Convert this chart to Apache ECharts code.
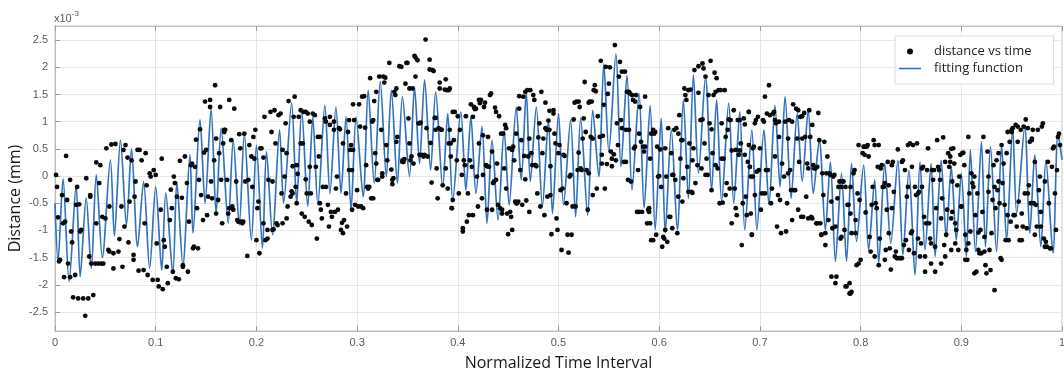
<!DOCTYPE html>
<html>
<head>
<meta charset="utf-8">
<script src="https://cdn.jsdelivr.net/npm/echarts@6/dist/echarts.min.js"></script>
<style>
html,body{margin:0;padding:0;background:#fff;}
#main{width:1064px;height:374px;}
</style>
</head>
<body>
<div id="main"></div>
<script>
// x: normalized time interval, y: distance (x10^-3 mm)
const distanceVsTime = [
// 0.00 - 0.10
[0.001,0.02],[0.002,-0.20],[0.003,-0.76],[0.004,-1.57],[0.005,-1.54],[0.007,-0.35],[0.008,-0.87],[0.009,-1.86],[0.010,-0.84],[0.011,0.37],[0.012,-0.44],[0.013,-1.61],[0.015,-1.86],[0.015,-0.07],[0.016,-1.02],[0.017,-1.22],[0.018,-2.23],[0.020,-1.82],[0.021,-0.53],[0.022,-0.20],[0.023,-2.25],[0.024,-0.52],[0.025,-1.02],[0.026,-0.99],[0.028,-2.25],[0.030,-2.57],[0.031,-0.04],[0.033,-2.25],[0.034,-1.48],[0.035,-0.35],[0.035,-0.38],[0.036,-1.61],[0.038,-2.19],[0.040,-1.61],[0.041,0.25],[0.041,-0.87],[0.043,-1.61],[0.044,-0.13],[0.045,0.20],[0.046,-1.61],[0.047,-0.75],[0.048,-1.61],[0.050,-0.78],[0.051,0.51],[0.053,-1.36],[0.054,-0.56],[0.054,-1.39],[0.056,0.58],[0.058,-1.42],[0.058,-1.70],[0.060,0.59],[0.063,-1.39],[0.064,-1.16],[0.066,-0.56],[0.067,-1.67],[0.068,0.48],[0.069,-0.93],[0.070,0.57],[0.072,0.34],[0.073,-1.22],[0.074,-0.47],[0.076,0.29],[0.078,-1.54],[0.078,-1.45],[0.079,-0.38],[0.080,-0.10],[0.082,0.48],[0.083,-1.74],[0.084,0.48],[0.086,0.29],[0.088,-1.73],[0.089,-0.87],[0.090,0.42],[0.091,-0.17],[0.092,-1.82],[0.094,0.05],[0.095,-0.01],[0.097,-1.91],[0.098,0.11],
// 0.10 - 0.20
[0.100,0.02],[0.101,-1.24],[0.102,-1.91],[0.103,-2.03],[0.105,-0.62],[0.106,0.32],[0.107,-2.08],[0.108,-1.18],[0.109,-1.30],[0.111,-1.67],[0.112,-1.97],[0.114,-0.81],[0.115,-0.25],[0.116,-0.59],[0.117,-1.76],[0.118,-0.01],[0.119,-0.13],[0.120,-1.88],[0.121,-0.38],[0.123,-1.90],[0.124,0.28],[0.126,-0.40],[0.127,-1.67],[0.127,-1.64],[0.129,0.36],[0.131,-0.13],[0.132,-1.76],[0.133,-0.84],[0.135,0.20],[0.136,0.23],[0.137,-1.33],[0.138,-1.30],[0.139,0.17],[0.140,0.67],[0.141,-0.59],[0.142,-1.33],[0.143,-0.07],[0.144,0.86],[0.145,-0.35],[0.147,-0.81],[0.148,0.43],[0.149,1.37],[0.150,0.48],[0.151,-0.72],[0.152,-0.38],[0.154,1.40],[0.154,1.27],[0.155,-0.10],[0.156,-0.41],[0.158,0.29],[0.159,1.67],[0.160,0.69],[0.160,-0.69],[0.162,-0.44],[0.163,0.42],[0.164,1.27],[0.165,-0.07],[0.166,-0.87],[0.167,0.60],[0.168,0.85],[0.168,0.81],[0.169,0.85],[0.171,-0.07],[0.172,-0.69],[0.173,-0.59],[0.173,1.40],[0.175,0.66],[0.176,-0.56],[0.177,-0.62],[0.178,1.24],[0.180,-0.10],[0.181,-0.81],[0.182,-0.84],[0.183,0.77],[0.184,0.51],[0.185,-0.84],[0.186,-0.87],[0.187,-0.84],[0.188,0.78],[0.189,-0.10],[0.191,-1.47],[0.192,-0.07],[0.193,0.57],[0.195,0.36],[0.196,-0.20],[0.197,0.72],
// 0.20 - 0.30
[0.198,0.32],[0.199,0.85],[0.200,-1.18],[0.201,-0.59],[0.202,-0.47],[0.203,-1.42],[0.204,0.51],[0.205,0.51],[0.207,-0.87],[0.207,0.34],[0.208,1.09],[0.209,-1.18],[0.211,-1.15],[0.211,-0.99],[0.212,-0.07],[0.214,1.18],[0.215,0.81],[0.216,-0.99],[0.216,-0.10],[0.217,-0.98],[0.218,1.21],[0.219,0.60],[0.220,-0.87],[0.221,-0.90],[0.222,1.12],[0.224,1.15],[0.225,-0.32],[0.226,0.48],[0.226,-0.87],[0.228,-0.01],[0.229,0.97],[0.230,0.42],[0.230,-0.78],[0.231,-0.56],[0.232,1.38],[0.234,-0.38],[0.235,-0.28],[0.236,-0.32],[0.236,0.18],[0.237,1.09],[0.238,1.46],[0.239,-0.20],[0.240,0.20],[0.240,-0.50],[0.241,0.04],[0.242,1.09],[0.244,1.21],[0.244,0.60],[0.245,-0.69],[0.246,0.60],[0.247,1.18],[0.248,-0.75],[0.249,1.18],[0.249,-0.06],[0.250,-0.32],[0.251,1.15],[0.252,-0.84],[0.253,0.17],[0.253,1.00],[0.254,-0.32],[0.255,-0.90],[0.256,1.15],[0.258,1.12],[0.259,0.17],[0.260,-1.15],[0.261,0.72],[0.262,0.36],[0.263,0.72],[0.263,-0.50],[0.264,-0.62],[0.265,-0.78],[0.266,-0.20],[0.268,1.06],[0.269,1.00],[0.269,-0.20],[0.271,-0.53],[0.272,-0.93],[0.273,1.09],[0.273,0.94],[0.274,-0.66],[0.275,-0.75],[0.277,1.00],[0.277,0.85],[0.278,-0.66],[0.279,-0.23],[0.280,-0.01],[0.281,-0.62],[0.282,0.88],[0.283,0.86],[0.284,-0.99],[0.285,-0.86],[0.286,-1.05],[0.286,0.60],[0.287,-0.81],[0.289,-0.32],[0.290,-0.93],[0.291,0.81],[0.292,0.11],[0.292,1.03],[0.293,0.48],[0.295,-0.62],[0.296,1.32],
// 0.30 - 0.40
[0.294,0.57],[0.295,0.11],[0.296,0.48],[0.297,1.03],[0.298,-0.53],[0.300,-0.26],[0.301,-0.56],[0.302,1.32],[0.303,0.91],[0.304,-0.56],[0.305,1.46],[0.306,-0.59],[0.307,1.47],[0.308,0.89],[0.309,0.20],[0.310,-0.20],[0.311,-0.23],[0.312,-0.20],[0.313,1.80],[0.314,-0.41],[0.315,1.00],[0.316,-0.41],[0.316,1.03],[0.317,1.38],[0.318,0.42],[0.319,1.55],[0.319,0.23],[0.320,-0.07],[0.321,-0.07],[0.322,1.83],[0.324,0.85],[0.325,-0.01],[0.325,0.05],[0.326,1.83],[0.327,1.72],[0.328,1.81],[0.329,0.57],[0.330,0.29],[0.332,2.08],[0.334,0.12],[0.335,-0.07],[0.335,-0.15],[0.336,-0.04],[0.337,1.55],[0.338,1.49],[0.339,1.61],[0.339,0.63],[0.340,0.72],[0.342,2.02],[0.344,2.01],[0.345,0.26],[0.345,0.29],[0.346,0.26],[0.347,0.31],[0.348,1.70],[0.349,2.08],[0.350,2.08],[0.351,1.06],[0.352,0.60],[0.352,1.61],[0.353,0.29],[0.354,0.36],[0.355,1.61],[0.356,0.23],[0.357,2.21],[0.358,1.83],[0.358,2.18],[0.360,2.13],[0.361,0.97],[0.362,0.39],[0.362,0.97],[0.363,0.98],[0.364,0.39],[0.366,0.36],[0.367,0.39],[0.368,2.51],[0.369,0.88],[0.370,0.36],[0.372,2.14],[0.372,1.96],[0.373,0.61],[0.374,-0.12],[0.375,1.95],[0.376,1.93],[0.377,1.07],[0.378,1.07],[0.378,0.85],[0.379,0.14],[0.380,-0.41],[0.381,0.88],[0.382,1.72],[0.382,1.61],[0.383,0.86],[0.384,0.85],[0.385,-0.17],[0.387,1.59],[0.388,1.78],[0.388,0.14],[0.389,1.58],[0.390,-0.23],[0.391,0.60],[0.391,1.58],[0.392,0.85],[0.393,0.36],[0.394,-0.59],[0.395,1.18],
// 0.40 - 0.50
[0.392,1.61],[0.393,0.60],[0.394,-0.59],[0.395,-0.44],[0.396,0.66],[0.397,1.18],[0.399,0.29],[0.400,1.10],[0.401,-0.32],[0.402,0.85],[0.404,0.02],[0.405,-0.96],[0.405,-1.02],[0.406,0.29],[0.407,0.20],[0.408,1.10],[0.409,-0.84],[0.410,-0.32],[0.411,-0.72],[0.412,0.29],[0.413,1.32],[0.414,0.17],[0.415,-0.72],[0.415,1.09],[0.416,1.27],[0.417,1.23],[0.418,1.24],[0.419,-0.01],[0.420,-0.56],[0.421,0.60],[0.421,1.40],[0.422,1.34],[0.423,1.40],[0.424,-0.41],[0.425,0.75],[0.425,0.02],[0.426,1.27],[0.427,1.35],[0.428,0.20],[0.429,-0.62],[0.429,0.18],[0.430,0.72],[0.431,0.17],[0.432,1.49],[0.433,1.52],[0.434,-0.62],[0.434,0.45],[0.435,-0.13],[0.436,-0.10],[0.437,1.26],[0.438,1.18],[0.438,-0.07],[0.439,0.23],[0.440,-0.53],[0.441,1.10],[0.442,-0.59],[0.443,0.78],[0.444,-0.62],[0.444,-0.69],[0.445,0.78],[0.446,0.14],[0.447,0.94],[0.448,0.88],[0.448,-0.23],[0.449,-0.69],[0.450,-1.07],[0.451,0.51],[0.452,-0.66],[0.453,-0.75],[0.454,-0.99],[0.454,0.48],[0.455,0.54],[0.456,0.29],[0.457,-0.47],[0.458,0.78],[0.458,-0.50],[0.459,-0.50],[0.460,-0.47],[0.461,1.47],[0.461,1.24],[0.462,0.11],[0.463,0.66],[0.464,-0.53],[0.465,1.46],[0.466,0.37],[0.467,1.55],[0.467,-0.06],[0.468,-0.45],[0.469,1.58],[0.470,0.36],[0.471,0.69],[0.471,-0.66],[0.472,1.58],[0.473,0.42],[0.474,0.20],[0.475,1.49],[0.476,1.40],[0.477,0.20],[0.477,0.20],[0.478,0.18],[0.479,-0.32],[0.480,0.71],[0.481,0.97],[0.482,-0.56],[0.483,1.55],[0.484,0.42],[0.485,0.69],[0.486,-0.72],[0.487,1.35],[0.487,0.88],[0.488,0.85],[0.489,-0.38],[0.490,1.02],[0.491,1.20],[0.491,0.85],[0.492,0.18],[0.493,-1.07],[0.495,1.21],
// 0.50 - 0.60
[0.492,-0.35],[0.495,1.15],[0.496,0.78],[0.497,0.60],[0.498,-0.78],[0.499,-0.99],[0.500,0.42],[0.501,0.57],[0.502,-0.26],[0.503,-1.36],[0.504,-0.23],[0.505,0.39],[0.506,0.37],[0.508,-0.50],[0.509,-1.08],[0.510,-1.41],[0.511,-0.01],[0.512,0.02],[0.513,-1.08],[0.514,-0.56],[0.515,1.04],[0.516,1.35],[0.517,-0.56],[0.518,1.37],[0.519,0.11],[0.520,0.43],[0.520,1.37],[0.521,1.27],[0.522,0.14],[0.523,0.11],[0.524,0.69],[0.525,1.06],[0.526,1.73],[0.527,0.81],[0.528,0.11],[0.529,-0.62],[0.530,0.05],[0.530,1.35],[0.531,1.37],[0.532,0.72],[0.533,1.37],[0.534,-0.35],[0.534,0.69],[0.535,1.58],[0.536,1.67],[0.537,1.56],[0.538,-0.23],[0.539,1.10],[0.541,0.72],[0.542,2.12],[0.543,0.23],[0.543,0.39],[0.544,0.74],[0.545,1.31],[0.546,-0.23],[0.547,2.01],[0.548,0.22],[0.549,1.51],[0.550,1.70],[0.551,2.00],[0.552,0.45],[0.553,0.32],[0.553,0.18],[0.555,0.40],[0.556,2.41],[0.557,0.29],[0.558,0.97],[0.559,0.57],[0.560,1.83],[0.561,2.10],[0.562,1.03],[0.563,0.88],[0.563,1.92],[0.565,0.26],[0.566,1.92],[0.567,0.85],[0.567,0.26],[0.568,1.55],[0.569,-0.07],[0.570,1.55],[0.570,0.85],[0.571,1.52],[0.572,-0.10],[0.573,1.49],[0.574,1.40],[0.575,0.51],[0.576,0.54],[0.576,1.37],[0.577,1.49],[0.578,-0.66],[0.579,0.11],[0.580,-0.66],[0.580,0.78],[0.581,1.27],[0.582,0.63],[0.583,-0.66],[0.584,0.54],[0.585,0.45],[0.586,1.46],[0.586,0.54],[0.588,-0.87],[0.589,-0.62],[0.590,-0.66],[0.591,0.32],[0.592,-1.18],[0.594,0.85],
// 0.60 - 0.70
[0.590,-0.59],[0.591,-0.87],[0.592,0.78],[0.594,-1.18],[0.595,0.78],[0.596,0.81],[0.597,-1.08],[0.598,0.54],[0.599,-0.01],[0.600,0.00],[0.601,0.49],[0.602,-0.20],[0.603,-1.30],[0.604,-1.12],[0.605,-1.15],[0.606,0.51],[0.606,-0.99],[0.607,-0.01],[0.608,-1.21],[0.609,0.88],[0.610,-0.75],[0.611,-0.75],[0.612,0.42],[0.613,-0.96],[0.613,0.02],[0.614,0.02],[0.615,0.85],[0.616,-0.07],[0.617,0.88],[0.618,-1.05],[0.619,0.78],[0.619,-0.38],[0.620,1.12],[0.621,0.32],[0.622,0.66],[0.623,-0.47],[0.623,0.66],[0.624,-0.04],[0.625,1.61],[0.626,1.49],[0.627,1.40],[0.628,0.17],[0.629,-0.29],[0.629,1.58],[0.630,0.60],[0.631,1.59],[0.632,-0.29],[0.633,-0.31],[0.633,0.29],[0.634,0.51],[0.635,1.95],[0.636,-0.13],[0.638,0.20],[0.639,1.53],[0.639,2.02],[0.641,1.03],[0.642,0.14],[0.643,2.07],[0.643,1.04],[0.644,1.98],[0.645,0.60],[0.646,0.02],[0.646,1.83],[0.647,0.32],[0.648,0.02],[0.649,1.49],[0.650,0.97],[0.651,2.12],[0.652,-0.26],[0.652,0.86],[0.653,0.42],[0.654,1.49],[0.655,1.90],[0.656,0.20],[0.656,1.55],[0.657,1.80],[0.658,0.14],[0.659,1.58],[0.660,-0.50],[0.661,1.58],[0.662,0.97],[0.662,0.32],[0.663,-0.49],[0.664,0.32],[0.665,1.58],[0.666,0.72],[0.666,-0.35],[0.667,-0.13],[0.668,0.85],[0.669,1.04],[0.670,-0.23],[0.671,1.03],[0.672,-0.87],[0.672,0.47],[0.674,1.21],[0.675,-0.23],[0.676,0.48],[0.676,-0.59],[0.677,-0.72],[0.678,1.03],[0.679,0.39],[0.680,1.03],[0.680,0.47],[0.681,0.60],[0.682,-1.27],[0.683,-0.50],[0.684,1.06],[0.685,0.95],[0.685,0.39],[0.686,-0.38],[0.687,-0.72],[0.688,0.26],[0.689,1.18],[0.689,0.57],[0.690,0.17],[0.691,-0.01],[0.692,-1.08],[0.693,0.51],
// 0.70 - 0.80
[0.689,1.18],[0.690,0.17],[0.691,-0.69],[0.692,-1.08],[0.693,-0.01],[0.694,0.54],[0.695,0.97],[0.695,-0.35],[0.696,1.03],[0.697,0.08],[0.698,1.09],[0.699,0.11],[0.700,0.51],[0.701,-0.62],[0.702,-0.32],[0.703,1.03],[0.704,1.00],[0.705,1.46],[0.705,-0.32],[0.706,0.11],[0.707,1.15],[0.708,0.11],[0.709,1.67],[0.710,1.12],[0.711,-0.50],[0.712,-0.23],[0.713,1.15],[0.714,1.18],[0.715,0.36],[0.715,1.03],[0.716,0.97],[0.717,-0.93],[0.718,-0.35],[0.719,1.00],[0.719,0.72],[0.720,-0.44],[0.721,-1.05],[0.722,0.23],[0.724,-0.01],[0.725,1.00],[0.726,-1.02],[0.727,-0.50],[0.728,0.05],[0.728,0.69],[0.729,1.03],[0.730,0.11],[0.731,-0.26],[0.732,-0.81],[0.732,1.00],[0.733,1.32],[0.734,-0.26],[0.735,-0.26],[0.736,1.24],[0.737,0.69],[0.738,-0.62],[0.738,1.21],[0.739,0.26],[0.740,1.09],[0.741,-0.75],[0.742,0.69],[0.742,1.10],[0.743,-0.75],[0.744,1.16],[0.745,0.72],[0.746,-0.38],[0.747,0.23],[0.748,-0.78],[0.748,0.14],[0.749,1.21],[0.750,0.72],[0.751,-0.75],[0.752,-0.78],[0.752,0.94],[0.753,0.20],[0.754,0.14],[0.755,0.14],[0.756,-0.87],[0.757,-0.87],[0.757,0.17],[0.758,1.16],[0.759,0.66],[0.760,-0.87],[0.761,-1.08],[0.761,-1.08],[0.762,0.05],[0.763,-0.35],[0.764,0.63],[0.765,-1.05],[0.765,-1.27],[0.766,0.05],[0.767,0.36],[0.768,-0.81],[0.769,0.05],[0.770,0.02],[0.771,-1.85],[0.771,-0.47],[0.772,-0.96],[0.773,-0.01],[0.774,0.02],[0.775,-1.97],[0.775,-0.93],[0.776,-1.85],[0.777,-0.41],[0.778,-0.20],[0.779,-0.10],[0.780,-1.15],[0.781,-0.20],[0.781,-1.12],[0.782,-0.10],[0.783,-0.10],[0.784,-0.99],[0.785,-0.20],[0.785,-2.03],[0.786,-2.03],[0.787,-0.53],[0.788,-0.53],[0.789,-2.16],[0.790,-0.20],[0.790,-2.16],
// 0.80 - 0.90
[0.789,-1.97],[0.790,-0.69],[0.791,-2.13],[0.791,-1.05],[0.793,0.05],[0.794,0.11],[0.795,-0.81],[0.795,-1.05],[0.796,-1.64],[0.797,-0.32],[0.798,0.57],[0.798,-1.61],[0.799,-0.44],[0.800,-1.54],[0.802,0.42],[0.803,0.54],[0.804,0.54],[0.804,0.39],[0.805,-0.67],[0.806,0.54],[0.807,0.57],[0.808,0.36],[0.809,-1.12],[0.810,-1.39],[0.811,-0.53],[0.812,-0.20],[0.813,0.66],[0.814,0.57],[0.814,-1.48],[0.815,-0.50],[0.816,-0.59],[0.817,0.17],[0.818,0.57],[0.818,-1.64],[0.819,-1.15],[0.820,0.14],[0.821,0.20],[0.822,-0.20],[0.823,-0.20],[0.824,-0.13],[0.824,-1.54],[0.825,-1.36],[0.826,-0.62],[0.827,0.26],[0.828,-0.17],[0.828,-1.05],[0.829,-1.33],[0.830,-1.72],[0.831,-0.59],[0.831,0.20],[0.832,0.26],[0.833,-0.29],[0.834,-1.48],[0.835,-1.39],[0.836,-1.51],[0.837,-1.51],[0.837,0.49],[0.839,-1.51],[0.840,-1.51],[0.841,-1.51],[0.841,0.26],[0.842,0.29],[0.843,-1.27],[0.844,0.11],[0.845,-1.18],[0.846,-0.38],[0.847,-0.20],[0.847,0.57],[0.848,-1.36],[0.849,0.60],[0.850,-1.05],[0.851,-1.02],[0.851,0.17],[0.852,0.57],[0.853,-1.42],[0.854,-0.20],[0.855,-0.35],[0.856,0.60],[0.857,-1.15],[0.857,-0.32],[0.858,-0.29],[0.859,-1.48],[0.860,-1.24],[0.861,0.14],[0.861,-0.20],[0.862,0.17],[0.863,-0.75],[0.864,-1.48],[0.864,-1.76],[0.865,-0.87],[0.866,0.11],[0.867,0.51],[0.868,-0.87],[0.869,-1.15],[0.870,-1.61],[0.870,-1.24],[0.871,0.11],[0.872,-0.07],[0.873,0.11],[0.874,-1.30],[0.874,-1.76],[0.875,-0.59],[0.876,0.66],[0.877,0.17],[0.878,0.11],[0.879,-0.07],[0.880,-0.78],[0.880,-1.61],[0.881,-0.41],[0.882,0.71],[0.883,-1.27],[0.884,0.26],[0.884,-1.48],[0.885,-1.08],[0.886,-0.62],[0.887,0.42],[0.888,0.17],[0.889,0.36],[0.890,0.50],[0.891,-0.10],
// 0.90 - 1.00
[0.889,0.26],[0.890,-0.78],[0.890,-1.36],[0.891,-0.66],[0.892,0.51],[0.893,0.23],[0.894,-1.24],[0.894,-0.87],[0.895,-0.99],[0.896,-0.17],[0.897,-1.36],[0.898,-0.01],[0.899,0.39],[0.900,-0.56],[0.900,-0.56],[0.901,0.42],[0.902,0.43],[0.903,0.20],[0.904,-1.08],[0.904,-1.54],[0.905,-1.36],[0.906,-1.54],[0.907,0.72],[0.907,-1.24],[0.908,-0.32],[0.909,-1.02],[0.910,0.05],[0.911,-0.13],[0.912,-0.20],[0.913,-0.01],[0.913,-1.79],[0.914,-0.72],[0.915,-1.76],[0.916,-0.32],[0.917,-1.36],[0.917,-1.04],[0.918,-1.42],[0.919,-0.99],[0.920,-1.42],[0.921,-0.66],[0.922,0.72],[0.923,-1.12],[0.923,-1.39],[0.924,-1.64],[0.925,-1.79],[0.926,0.45],[0.927,-0.01],[0.927,-0.29],[0.928,-1.36],[0.929,-1.73],[0.930,-1.05],[0.931,-0.44],[0.932,0.20],[0.933,-2.10],[0.933,-0.20],[0.934,-0.59],[0.935,0.29],[0.936,-0.26],[0.937,-0.10],[0.937,0.42],[0.938,-0.50],[0.939,-1.51],[0.940,-1.54],[0.940,0.57],[0.941,-0.13],[0.942,0.23],[0.943,-0.53],[0.944,-1.18],[0.945,0.42],[0.946,0.81],[0.946,-0.72],[0.947,-1.18],[0.948,0.63],[0.949,-0.84],[0.950,0.85],[0.950,0.81],[0.951,0.88],[0.952,-0.72],[0.953,-0.72],[0.954,0.94],[0.955,-0.93],[0.956,0.63],[0.956,0.91],[0.957,-0.47],[0.958,-1.18],[0.959,0.85],[0.960,-1.18],[0.960,-0.69],[0.961,-0.93],[0.962,0.91],[0.963,-0.32],[0.964,1.04],[0.965,-0.96],[0.966,0.88],[0.966,-0.32],[0.967,-0.17],[0.968,0.63],[0.969,-0.50],[0.970,0.66],[0.970,0.69],[0.971,0.85],[0.972,-0.50],[0.973,-1.08],[0.973,0.26],[0.974,-0.53],[0.975,-0.93],[0.976,0.85],[0.977,-0.26],[0.978,-0.01],[0.979,-0.93],[0.979,-0.66],[0.980,0.91],[0.981,0.97],[0.982,-1.15],[0.983,-1.30],[0.983,-0.10],[0.984,-1.21],[0.985,-1.30],[0.986,0.26],[0.987,-0.50],[0.988,-1.33],[0.989,-1.33],[0.990,0.17],[0.991,0.51],[0.992,0.54],[0.993,-0.32],[0.994,-0.99],[0.995,0.11],[0.996,0.72],[0.997,0.78],[0.998,0.57]
];

const fittingFunction = [
[0.000,-0.50],[0.003,-1.57],[0.008,-0.05],[0.014,-1.94],[0.021,-0.17],[0.025,-1.85],[0.031,-0.40],[0.036,-1.70],[0.041,0.02],[0.047,-1.50],[0.055,0.30],[0.059,-1.10],[0.065,0.66],[0.071,-0.90],[0.076,0.50],[0.082,-1.30],[0.088,-0.10],[0.094,-1.70],[0.100,-0.20],
[0.106,-1.73],[0.110,-0.31],[0.117,-1.79],[0.121,-0.10],[0.127,-1.64],[0.134,0.39],[0.137,-1.05],[0.144,1.04],[0.149,-0.50],[0.155,1.23],[0.160,-0.69],[0.165,0.88],[0.172,-0.87],[0.177,0.66],[0.183,-0.90],[0.188,0.78],[0.195,-1.18],
[0.200,0.57],[0.206,-1.33],[0.210,0.45],[0.216,-1.08],[0.223,0.85],[0.227,-0.50],[0.235,1.34],[0.240,-0.50],[0.245,1.21],[0.251,-0.56],[0.256,1.09],[0.261,-0.53],[0.268,1.30],[0.273,-0.32],[0.279,1.27],[0.284,-0.32],[0.289,1.09],[0.294,-0.62],
[0.299,1.09],[0.306,-0.38],[0.311,1.58],[0.317,-0.13],[0.323,1.74],[0.329,-0.01],[0.334,1.58],[0.340,-0.13],[0.345,1.46],[0.352,-0.01],[0.357,1.64],[0.362,0.23],[0.367,1.77],[0.373,0.11],[0.378,1.55],[0.385,-0.20],[0.390,1.15],[0.395,-0.44],
[0.403,1.18],[0.408,-0.26],[0.413,1.09],[0.418,-0.32],[0.424,0.91],[0.429,-0.87],[0.434,0.66],[0.440,-0.81],[0.446,0.85],[0.451,-0.53],[0.458,1.27],[0.463,-0.07],[0.468,1.55],[0.472,-0.10],[0.478,1.27],[0.484,-0.56],[0.490,1.03],[0.494,-0.69],
[0.500,1.15],[0.505,-0.53],[0.512,1.03],[0.517,-0.75],[0.522,1.06],[0.529,-0.72],[0.534,1.21],[0.540,-0.01],[0.545,2.07],[0.550,0.45],[0.557,2.25],[0.562,0.17],[0.568,1.85],[0.573,-0.26],[0.580,1.52],[0.585,-0.59],[0.591,1.30],[0.596,-0.99],
[0.602,1.06],[0.606,-1.05],[0.612,0.85],[0.618,-0.99],[0.624,1.40],[0.629,-0.41],[0.634,1.86],[0.639,0.05],[0.646,1.83],[0.652,-0.26],[0.657,1.40],[0.662,-0.47],[0.669,1.34],[0.674,-0.50],[0.680,1.18],[0.685,-0.99],[0.692,0.85],
[0.697,-0.99],[0.704,0.85],[0.709,-0.53],[0.715,1.30],[0.720,-0.20],[0.725,1.46],[0.731,-0.41],[0.737,1.15],[0.742,-0.10],[0.748,1.21],[0.753,-0.32],[0.759,0.66],[0.765,-0.99],[0.770,0.26],[0.775,-1.57],[0.781,0.05],[0.786,-1.57],[0.791,0.23],
[0.796,-1.20],[0.803,0.20],[0.808,-1.36],[0.814,-0.07],[0.818,-1.60],[0.824,0.23],[0.830,-1.24],[0.837,0.29],[0.842,-1.45],[0.848,0.11],[0.854,-1.82],[0.859,0.26],[0.864,-1.36],[0.870,0.23],[0.874,-1.48],[0.880,0.29],[0.885,-1.12],[0.890,0.17],
[0.895,-1.18],[0.900,0.05],[0.905,-1.48],[0.909,0.48],[0.914,-1.39],[0.920,0.63],[0.924,-1.30],[0.929,0.54],[0.935,-1.39],[0.940,0.57],[0.945,-1.18],[0.951,0.88],[0.955,-0.69],[0.963,0.91],[0.968,-1.05],[0.973,0.39],[0.979,-1.30],[0.984,0.29],[0.991,-1.42],[0.996,0.78],[1.000,0.30]
];

const yTickValues = [-2.5,-2,-1.5,-1,-0.5,0,0.5,1,1.5,2,2.5];
const seriesNames = ['distance vs time','fitting function'];
const axisTitles = {x:'Normalized Time Interval', y:'Distance (mm)'};

const chart = echarts.init(document.getElementById('main'), null, {renderer:'canvas'});
const tickLabelStyle = {color:'#5a5a5a', fontSize:11, fontFamily:'Liberation Sans, Arial, sans-serif'};
const option = {
  animation:false,
  backgroundColor:'#ffffff',
  grid:{left:55, right:2, top:26, bottom:43, show:true, borderColor:'#c4c4c4', borderWidth:1, backgroundColor:'#ffffff', outerBoundsMode:'none', containLabel:false},
  graphic:[{
    type:'text', left:54, top:10,
    style:{
      text:'{b|x10}{s|-3}',
      rich:{
        b:{fontSize:11, fill:'#5a5a5a', fontFamily:'Liberation Sans, Arial, sans-serif', verticalAlign:'bottom', lineHeight:14},
        s:{fontSize:8, fill:'#5a5a5a', fontFamily:'Liberation Sans, Arial, sans-serif', verticalAlign:'top', lineHeight:14, padding:[0,0,6,0]}
      }
    }
  }],
  legend:{
    orient:'vertical', left:895, top:36,
    data:[{name:seriesNames[0], icon:'circle'},{name:seriesNames[1], icon:'path://M0,0 L22,0 L22,1.6 L0,1.6 Z'}],
    itemWidth:22, itemHeight:6, itemGap:4,
    backgroundColor:'#ffffff', borderColor:'#dadada', borderWidth:1, borderRadius:0,
    padding:[9,22,9,4],
    textStyle:{fontSize:13, color:'#222', fontFamily:'Open Sans, Noto Sans, sans-serif', padding:[0,0,0,8]}
  },
  xAxis:[{
    type:'value', min:0, max:1, interval:0.1,
    name:axisTitles.x, nameLocation:'middle', nameGap:24, nameMoveOverlap:false,
    nameTextStyle:{fontSize:16, color:'#1a1a1a', fontFamily:'Open Sans, Noto Sans, sans-serif'},
    axisLine:{show:true, onZero:false, lineStyle:{color:'#bdbdbd', width:1}},
    axisTick:{show:true, inside:true, length:5, lineStyle:{color:'#9a9a9a'}},
    axisLabel:Object.assign({margin:6, formatter:v=>String(+v.toFixed(1))}, tickLabelStyle),
    splitLine:{show:true, lineStyle:{color:'#e6e6e6', width:1}}
  },{
    type:'value', position:'top', min:0, max:1, interval:0.1,
    axisLine:{show:true, onZero:false, lineStyle:{color:'#c4c4c4'}},
    axisTick:{show:true, inside:true, length:5, lineStyle:{color:'#9a9a9a'}},
    axisLabel:{show:false}, splitLine:{show:false}
  }],
  yAxis:[{
    type:'value', min:-2.85, max:2.76,
    name:axisTitles.y, nameLocation:'middle', nameGap:32, nameMoveOverlap:false,
    nameTextStyle:{fontSize:16, color:'#1a1a1a', fontFamily:'Open Sans, Noto Sans, sans-serif', padding:[0,40,0,0]},
    axisLine:{show:true, onZero:false, lineStyle:{color:'#bdbdbd', width:1}},
    axisTick:{show:true, inside:true, length:5, customValues:yTickValues, lineStyle:{color:'#9a9a9a'}},
    axisLabel:Object.assign({margin:7, customValues:yTickValues, formatter:v=>String(v)}, tickLabelStyle),
    splitLine:{show:true, lineStyle:{color:'#e6e6e6', width:1}}
  }],
  series:[{
    name:seriesNames[1], type:'line', data:fittingFunction,
    showSymbol:false, symbol:'none', smooth:0.3,
    lineStyle:{color:'#3273c0', width:1.7}, itemStyle:{color:'#3273c0'}, z:2
  },{
    name:seriesNames[0], type:'scatter', data:distanceVsTime,
    symbol:'circle', symbolSize:4.8, itemStyle:{color:'#0a0a0a', opacity:1}, z:3
  }]
};
chart.setOption(option);
</script>
</body>
</html>
